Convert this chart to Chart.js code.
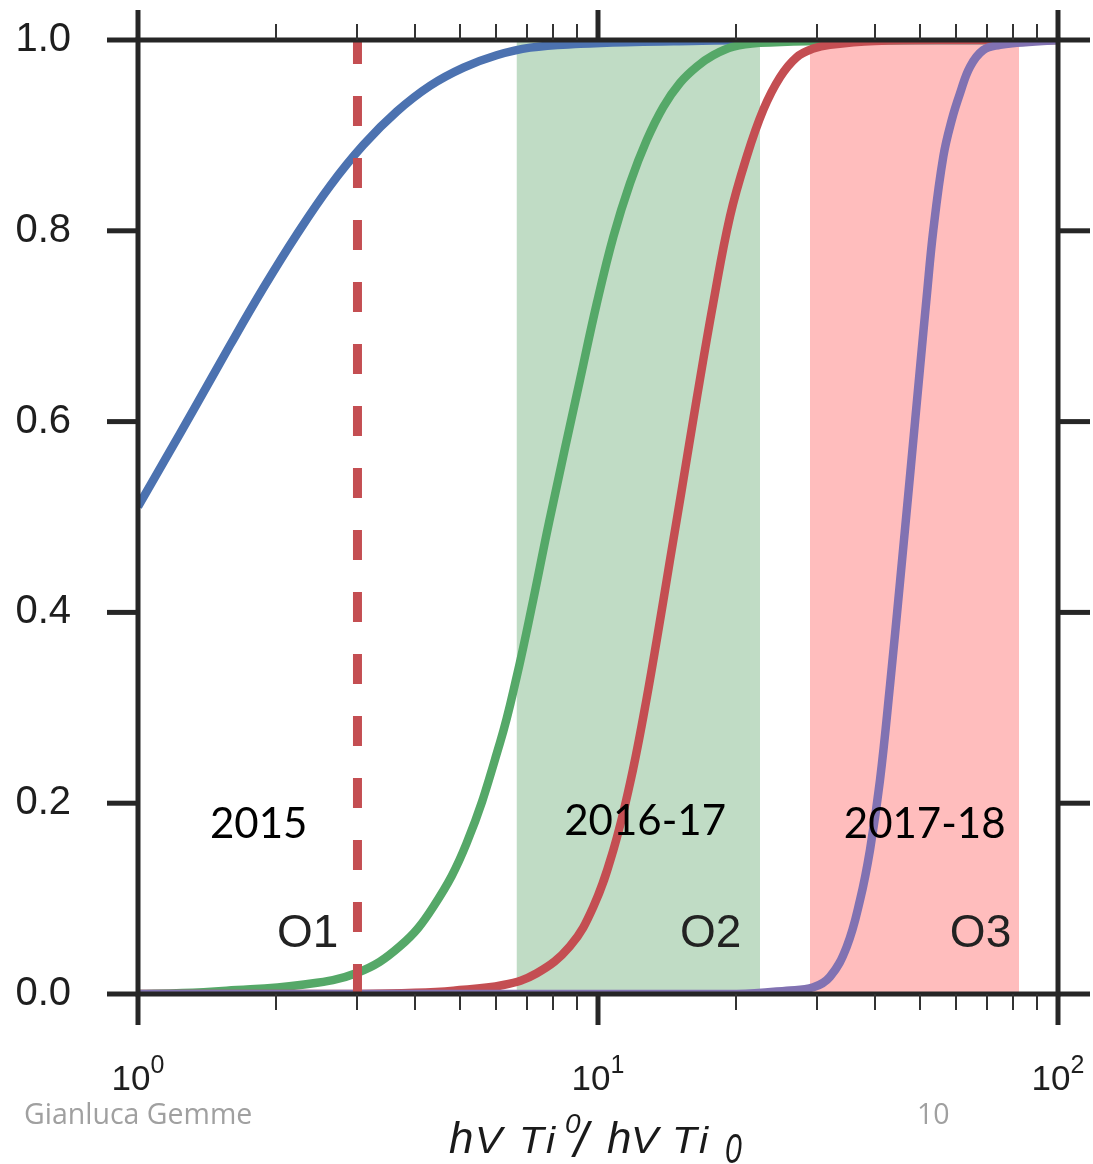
<!DOCTYPE html>
<html><head><meta charset="utf-8">
<script src="https://cdn.jsdelivr.net/npm/chart.js@4/dist/chart.umd.min.js"></script>
<style>html,body{margin:0;padding:0;background:#fff;overflow:hidden}#wrap{width:1093px;height:1164px;position:relative}
.pre{position:absolute;left:-9999px;top:0}</style>
</head><body>
<span class="pre" style="font-family:'Liberation Sans'">a<i>a</i></span>
<span class="pre" style="font-family:'Open Sans'">a</span>
<span class="pre" style="font-family:Lato">a</span>
<div id="wrap"><canvas id="c"></canvas></div>
<script>
// ---- data ----
const blueX = [1.0, 1.135, 1.341, 1.585, 1.873, 2.213, 2.615, 3.09, 3.653, 4.315, 5.10, 6.02, 7.12, 9.14, 12, 16, 22.5, 40, 70, 100];
const blueY = [0.511, 0.557, 0.618, 0.680, 0.740, 0.796, 0.847, 0.890, 0.925, 0.952, 0.971, 0.984, 0.992, 0.996, 0.998, 0.999, 1.0, 1.0, 1.0, 1.0];

const greenX = [1.0, 1.25, 1.558, 2.25, 2.99, 3.71, 4.385, 5.18, 6.12, 6.66, 7.23, 7.83, 9.14, 9.94, 10.8, 11.74, 12.76, 13.87, 15.07, 16.39, 17.8, 19.7, 22.5, 30, 50, 100];
const greenY = [0.0, 0.001, 0.0035, 0.0094, 0.022, 0.050, 0.0915, 0.158, 0.263, 0.333, 0.413, 0.495, 0.644, 0.724, 0.794, 0.850, 0.895, 0.930, 0.955, 0.972, 0.984, 0.993, 0.997, 0.999, 1.0, 1.0];

const redX = [1.0, 2.0, 3.0, 4.0, 4.85, 6.22, 7.36, 8.69, 9.77, 10.8, 11.74, 12.55, 13.42, 14.34, 15.2, 16.39, 17.8, 19.36, 21.06, 22.88, 24.87, 27.04, 29.38, 31.94, 40, 60, 100];
const redY = [0.0, 0.0, 0.0, 0.0012, 0.0035, 0.0094, 0.0217, 0.050, 0.0915, 0.151, 0.221, 0.291, 0.371, 0.455, 0.528, 0.624, 0.724, 0.815, 0.878, 0.927, 0.961, 0.982, 0.991, 0.995, 0.999, 1.0, 1.0];

const purpleX = [1.0, 10, 20, 25.72, 29.38, 31.94, 34.73, 37.12, 39.02, 41.02, 43.14, 45.35, 47.69, 50.12, 51.83, 53.58, 56.33, 58.74, 61.23, 64.39, 68.82, 74.8, 81.35, 100];
const purpleY = [0.0, 0.0, 0.0, 0.0035, 0.007, 0.0181, 0.0496, 0.0985, 0.151, 0.224, 0.324, 0.432, 0.544, 0.656, 0.731, 0.801, 0.878, 0.916, 0.944, 0.972, 0.9895, 0.995, 0.997, 1.0];

const o1Threshold = 3.0;            // dashed vertical line
const bandO2 = [6.65, 22.5];        // shaded O2 range
const bandO3 = [28.9, 82.3];        // shaded O3 range

const yTickValues = [0, 0.2, 0.4, 0.6, 0.8, 1.0];
const yTickLabels = ['0.0', '0.2', '0.4', '0.6', '0.8', '1.0'];
const xMajorValues = [1, 10, 100];
const xMajorBase = ['10', '10', '10'];
const xMajorExp = ['0', '1', '2'];
const xMinorValues = [2, 3, 4, 5, 6, 7, 8, 9, 20, 30, 40, 50, 60, 70, 80, 90];

const periodLabels = ['2015', '2016-17', '2017-18'];
const runLabels = ['O1', 'O2', 'O3'];
const footerLeft = 'Gianluca Gemme';
const footerRight = '10';

// ---- chart ----
const pts = (xs, ys) => xs.map((x, i) => ({x: x, y: ys[i]}));
const curve = (xs, ys, color) => ({
  data: pts(xs, ys), borderColor: color, borderWidth: 8.5, pointRadius: 0,
  tension: 0.4, fill: false, borderCapStyle: 'butt', borderJoinStyle: 'round'
});
const band = (r, color) => ({
  data: [{x: r[0], y: 1}, {x: r[1], y: 1}], borderWidth: 0, borderColor: 'rgba(0,0,0,0)',
  backgroundColor: color, fill: 'origin', pointRadius: 0, tension: 0
});

const periodPos = [[1.83, 0.1635], [12.66, 0.1667], [51.3, 0.1635]];
const runPos = [[2.005, 0.0493], [15.07, 0.0493], [58.2, 0.0493]];
const SANS = '"Liberation Sans", Arial, Helvetica, sans-serif';

const decor = {
  id: 'decor',
  afterDatasetsDraw(chart) {
    const ctx = chart.ctx, xs = chart.scales.x, ys = chart.scales.y, a = chart.chartArea;
    ctx.save();
    const axisCol = '#262626';
    ctx.strokeStyle = axisCol; ctx.lineWidth = 5; ctx.lineJoin = 'miter';
    ctx.strokeRect(a.left, a.top, a.right - a.left, a.bottom - a.top);
    ctx.lineCap = 'butt';
    yTickValues.forEach(v => {
      const y = ys.getPixelForValue(v);
      ctx.beginPath(); ctx.moveTo(a.left - 31, y); ctx.lineTo(a.left, y); ctx.stroke();
      ctx.beginPath(); ctx.moveTo(a.right, y); ctx.lineTo(a.right + 32, y); ctx.stroke();
    });
    xMajorValues.forEach(v => {
      const x = xs.getPixelForValue(v);
      ctx.beginPath(); ctx.moveTo(x, a.top - 30); ctx.lineTo(x, a.top); ctx.stroke();
      ctx.beginPath(); ctx.moveTo(x, a.bottom); ctx.lineTo(x, a.bottom + 31); ctx.stroke();
    });
    ctx.lineWidth = 2; ctx.strokeStyle = '#333';
    xMinorValues.forEach(v => {
      const x = Math.round(xs.getPixelForValue(v));
      ctx.beginPath(); ctx.moveTo(x, a.top - 16); ctx.lineTo(x, a.top); ctx.stroke();
      ctx.beginPath(); ctx.moveTo(x, a.bottom); ctx.lineTo(x, a.bottom + 16); ctx.stroke();
    });
    ctx.fillStyle = '#1e1e1e'; ctx.font = '40px ' + SANS;
    ctx.textAlign = 'right'; ctx.textBaseline = 'alphabetic';
    yTickValues.forEach((v, i) => {
      ctx.fillText(yTickLabels[i], a.left - 67, ys.getPixelForValue(v) + 11);
    });
    ctx.textAlign = 'left';
    xMajorValues.forEach((v, i) => {
      const x = xs.getPixelForValue(v);
      ctx.font = '35px ' + SANS;
      const w1 = ctx.measureText(xMajorBase[i]).width;
      ctx.font = '25px ' + SANS;
      const w2 = ctx.measureText(xMajorExp[i]).width;
      const s = x - (w1 + w2) / 2;
      ctx.font = '35px ' + SANS;
      ctx.fillText(xMajorBase[i], s, a.bottom + 96);
      ctx.font = '25px ' + SANS;
      ctx.fillText(xMajorExp[i], s + w1, a.bottom + 79);
    });
    ctx.fillStyle = '#000'; ctx.font = '42px Lato, "Open Sans", sans-serif'; ctx.textAlign = 'center';
    periodLabels.forEach((t, i) => {
      ctx.fillText(t, xs.getPixelForValue(periodPos[i][0]), ys.getPixelForValue(periodPos[i][1]));
    });
    ctx.fillStyle = '#222'; ctx.font = '46px ' + SANS; ctx.textAlign = 'left';
    runLabels.forEach((t, i) => {
      ctx.fillText(t, xs.getPixelForValue(runPos[i][0]), ys.getPixelForValue(runPos[i][1]));
    });
    // axis title (glyphs as shown in the original)
    ctx.fillStyle = '#1a1a1a';
    const it = (txt, x, y, size, sx) => {
      ctx.save(); ctx.translate(x, y); ctx.scale(sx || 1, 1);
      ctx.font = 'italic ' + size + 'px ' + SANS; ctx.fillText(txt, 0, 0); ctx.restore();
    };
    it('h', 449, 1153, 44); it('V', 475, 1153, 37, 1.1); it('T', 519, 1153, 37, 1.1); it('i', 546, 1153, 37, 1.1);
    it('0', 565, 1133, 28); it('/', 574, 1157, 50);
    it('h', 607, 1153, 44); it('V', 631, 1153, 37, 1.1); it('T', 672, 1153, 37, 1.1); it('i', 699, 1153, 37, 1.1);
    it('0', 725, 1163, 42, 0.72);
    ctx.fillStyle = '#a0a0a0'; ctx.font = '28.5px "Open Sans", sans-serif';
    ctx.fillText(footerLeft, 24, 1124);
    ctx.fillText(footerRight, 917, 1124);
    ctx.restore();
  }
};

function build() {
  new Chart(document.getElementById('c'), {
    type: 'line',
    data: {
      datasets: [
        {data: [{x: o1Threshold, y: 0}, {x: o1Threshold, y: 1}], borderColor: '#c44e52', borderWidth: 9,
         borderDash: [30, 32], pointRadius: 0, tension: 0, fill: false, borderCapStyle: 'butt'},
        curve(purpleX, purpleY, '#8172b2'),
        curve(redX, redY, '#c44e52'),
        curve(greenX, greenY, '#55a868'),
        curve(blueX, blueY, '#4c72b0'),
        band(bandO3, 'rgb(255,189,189)'),
        band(bandO2, 'rgb(192,220,197)')
      ]
    },
    options: {
      responsive: true, maintainAspectRatio: false, animation: false, devicePixelRatio: 1,
      layout: {padding: {left: 138, right: 35, top: 40, bottom: 170}},
      plugins: {legend: {display: false}, tooltip: {enabled: false}},
      scales: {
        x: {type: 'logarithmic', min: 1, max: 100, display: false},
        y: {type: 'linear', min: 0, max: 1, display: false}
      }
    },
    plugins: [decor]
  });
}
const loads = ['40px "Liberation Sans"', 'italic 40px "Liberation Sans"', '27px "Open Sans"', '42px Lato']
  .map(f => document.fonts.load(f).catch(() => null));
Promise.all(loads).then(build, build);
</script></body></html>
